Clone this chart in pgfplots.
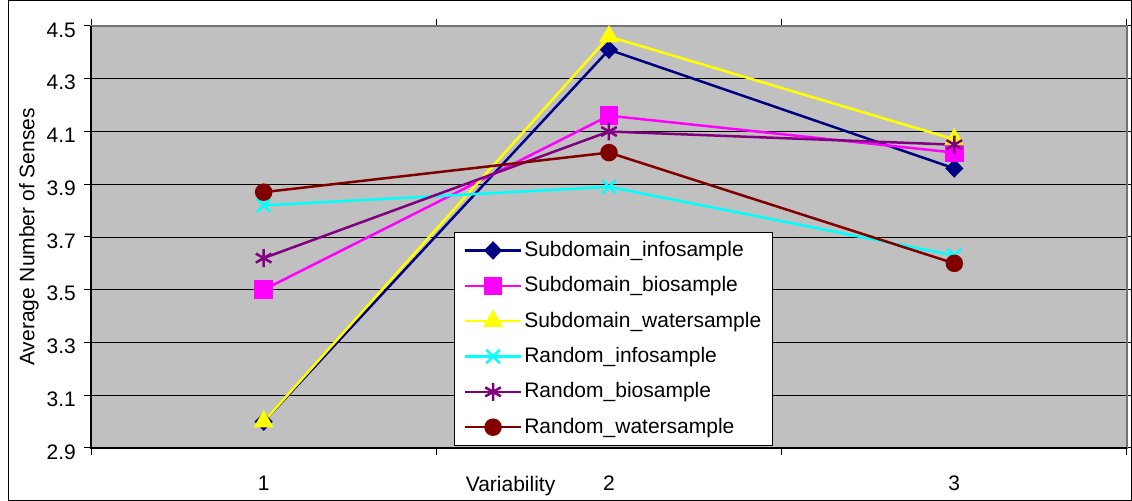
\documentclass[border=0pt]{standalone}
\usepackage{pgfplots}
\pgfplotsset{compat=1.18}
\usepackage{fontspec}
\setmainfont{Liberation Sans}
\definecolor{sinfo}{HTML}{000080}
\definecolor{sbio}{HTML}{FF00FF}
\definecolor{swater}{HTML}{FFFF00}
\definecolor{rinfo}{HTML}{00FFFF}
\definecolor{rbio}{HTML}{800080}
\definecolor{rwater}{HTML}{800000}
\definecolor{plotbg}{HTML}{C0C0C0}
\begin{document}
\fontsize{21bp}{25bp}\selectfont
\begin{tikzpicture}
\useasboundingbox (0,0) rectangle (1132bp,501bp);
\draw[black, line width=1bp] (8.5bp,0.5bp) rectangle (1131.5bp,500.5bp);
\begin{axis}[
  at={(91bp,53bp)}, anchor=south west,
  scale only axis, width=1036bp, height=422bp,
  xmin=0.5, xmax=3.5, ymin=2.9, ymax=4.5,
  axis background/.style={fill=plotbg},
  axis line style={draw=gray!90!black, line width=1.5bp},
  xtick={1,2,3}, major x tick style={draw=none},
  minor xtick={0.5,1.5,2.5,3.5},
  minor x tick style={black, line width=1bp},
  minor tick length=7bp,
  ytick={2.9,3.1,3.3,3.5,3.7,3.9,4.1,4.3,4.5},
  major y tick style={black, line width=1bp},
  major tick length=7bp,
  tick align=outside,
  ymajorgrids, grid style={black, line width=0.8bp},
  tick label style={font=\fontsize{21bp}{25bp}\selectfont},
  yticklabel style={/pgf/number format/fixed, /pgf/number format/precision=1, /pgf/number format/fixed zerofill, xshift=-1bp, yshift=-4bp},
  xticklabel style={yshift=-14bp},
  /pgf/number format/assume math mode=true,
  ylabel={Average Number of Senses},
  ylabel style={at={(rel axis cs:0,0.5)}, anchor=center, yshift=62bp, font=\fontsize{21bp}{25bp}\selectfont},
  xlabel={Variability},
  xlabel style={at={(rel axis cs:0.405,0)}, anchor=north, yshift=-21bp, font=\fontsize{21bp}{25bp}\selectfont},
  legend style={at={(rel axis cs:0.3507,0.005)}, anchor=south west, draw=black, line width=1bp, fill=white, font=\fontsize{21bp}{25bp}\selectfont, row sep=13bp, inner xsep=9bp, inner ysep=7bp},
  legend cell align=left,
  legend image code/.code={\draw[mark repeat=2,mark phase=2] plot coordinates {(0bp,0bp) (28bp,0bp) (56bp,0bp)};},
  every axis plot/.append style={line width=2.5bp},
  clip=false,
]
\addplot[color=sinfo, mark=diamond*, mark size=7.5bp, mark options={xscale=1.3}] coordinates {(1,3.00) (2,4.41) (3,3.96)};
\addlegendentry{Subdomain\_infosample}
\addplot[color=sbio, mark=square*, mark size=8bp] coordinates {(1,3.50) (2,4.16) (3,4.02)};
\addlegendentry{Subdomain\_biosample}
\addplot[color=swater, mark=triangle*, mark size=9bp] coordinates {(1,3.00) (2,4.46) (3,4.07)};
\addlegendentry{Subdomain\_watersample}
\addplot[color=rinfo, mark=x, mark size=9.5bp] coordinates {(1,3.82) (2,3.89) (3,3.63)};
\addlegendentry{Random\_infosample}
\addplot[color=rbio, mark=asterisk, mark size=9bp] coordinates {(1,3.62) (2,4.10) (3,4.05)};
\addlegendentry{Random\_biosample}
\addplot[color=rwater, mark=*, mark size=7.5bp] coordinates {(1,3.87) (2,4.02) (3,3.60)};
\addlegendentry{Random\_watersample}
\draw[black, line width=1.5bp] (rel axis cs:0,1) -- (rel axis cs:0,0) -- (rel axis cs:1,0);
\end{axis}
\end{tikzpicture}
\end{document}
